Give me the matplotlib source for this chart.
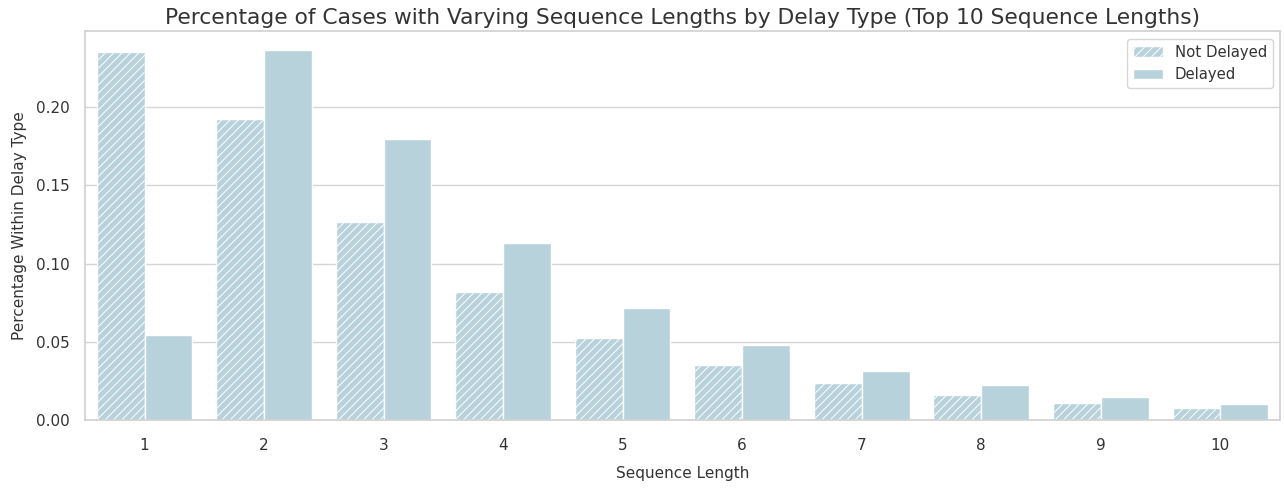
import matplotlib
matplotlib.use("Agg")
import matplotlib.pyplot as plt
import numpy as np
import seaborn as sns

sns.set_style("whitegrid")
plt.rcParams["font.family"] = ["DejaVu Sans"]
plt.rcParams["hatch.color"] = "white"
plt.rcParams["hatch.linewidth"] = 0.7

# Top 10 sequence lengths and the share of cases within each delay type
sequence_lengths = ["1", "2", "3", "4", "5", "6", "7", "8", "9", "10"]
not_delayed = [0.2350, 0.1922, 0.1264, 0.0817, 0.0524, 0.0351, 0.0236, 0.0160, 0.0109, 0.0077]
delayed = [0.0543, 0.2363, 0.1794, 0.1130, 0.0715, 0.0479, 0.0313, 0.0224, 0.0147, 0.0102]
series_labels = ["Not Delayed", "Delayed"]

bar_color = "#b8d2dc"
text_color = "#333333"

fig = plt.figure(figsize=(12.84, 4.88), dpi=100)
ax = fig.add_axes([0.066, 0.139, 0.931, 0.797])

x = np.arange(len(sequence_lengths))
w = 0.4
ax.bar(x - w / 2, not_delayed, width=w, color=bar_color, edgecolor="white",
       linewidth=1.0, hatch="////", label=series_labels[0], zorder=2)
ax.bar(x + w / 2, delayed, width=w, color=bar_color, edgecolor="white",
       linewidth=1.0, label=series_labels[1], zorder=2)

ax.set_xticks(x)
ax.set_xticklabels(sequence_lengths)
ax.set_xlim(-0.5, 9.5)
ax.set_ylim(0, 0.2484)
ax.set_yticks([0.0, 0.05, 0.10, 0.15, 0.20])
ax.set_yticklabels(["0.00", "0.05", "0.10", "0.15", "0.20"])
ax.grid(axis="x", visible=False)
ax.grid(axis="y", color="#d5d5d5", linewidth=1.0)
ax.set_axisbelow(True)
for s in ax.spines.values():
    s.set_color("#d0d0d0")
    s.set_linewidth(1.2)

ax.tick_params(axis="both", labelsize=11, colors=text_color, length=0)
ax.tick_params(axis="x", pad=13)
ax.tick_params(axis="y", pad=11)
ax.set_xlabel("Sequence Length", fontsize=11, color=text_color, labelpad=9)
ax.set_ylabel("Percentage Within Delay Type", fontsize=11, color=text_color, labelpad=6)
ax.set_title("Percentage of Cases with Varying Sequence Lengths by Delay Type (Top 10 Sequence Lengths)",
             fontsize=15.7, color=text_color, pad=5)

leg = ax.legend(loc="upper right", fontsize=10.7, frameon=True)
for t in leg.get_texts():
    t.set_color(text_color)

fig.savefig("out.png", dpi=100)
